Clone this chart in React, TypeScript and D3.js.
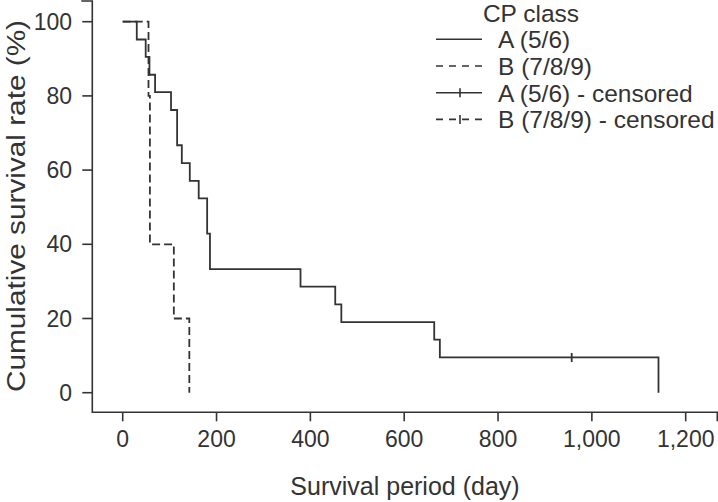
import React from 'react';
import * as d3 from 'd3';

// Survival data
const xTicks = [0, 200, 400, 600, 800, 1000, 1200];
const yTicks = [0, 20, 40, 60, 80, 100];
const timesA = [0, 30, 49, 57, 69, 103, 116, 126, 143, 162, 180, 186, 379, 453, 466, 664, 676, 1142];
const survA = [100, 95.2, 90.5, 85.7, 81.0, 76.2, 66.7, 61.9, 57.1, 52.4, 42.9, 33.3, 28.6, 23.8, 19.0, 14.3, 9.5, 0];
const censorTimesA = [957];
const censorSurvA = [9.5];
const timesB = [0, 55, 58, 109, 142];
const survB = [100, 80, 40, 20, 0];
const legendTitle = 'CP class';
const legendLabels = ['A (5/6)', 'B (7/8/9)', 'A (5/6) - censored', 'B (7/8/9) - censored'];

const fmt = d3.format(',');

export default function App() {
  const W = 718, H = 502;
  const ink = '#333333';
  const font = '"Liberation Sans", Arial, Helvetica, sans-serif';
  const x = d3.scaleLinear().domain([0, 1200]).range([122.7, 685.7]);
  const y = d3.scaleLinear().domain([0, 100]).range([392.7, 21.7]);
  const axL = 92.3, axB = 412.3, axT = 1, axR = 717.3;

  const line = d3.line<[number, number]>()
    .x(d => x(d[0]))
    .y(d => y(d[1]))
    .curve(d3.curveStepAfter);
  const ptsA: [number, number][] = timesA.map((t, i) => [t, survA[i]]);
  const ptsB: [number, number][] = timesB.map((t, i) => [t, survB[i]]);

  const legX0 = 436, legX1 = 482, legTextX = 498;
  const rowBase = (i: number) => 48.3 + i * 26.7;

  return (
    <svg width={W} height={H} style={{ position: 'absolute', left: 0, top: 0, background: '#fff' }}
      fontFamily={font}>
      <rect width={W} height={H} fill="#fff" />
      {/* axes */}
      <path d={`M${axL - 11},${axT}H${axL}V${axB}H${axR}V${axB + 9}`} fill="none" stroke={ink} strokeWidth={1.6} />
      {yTicks.map(t => (
        <g key={'y' + t}>
          <line x1={axL - 10} x2={axL} y1={y(t)} y2={y(t)} stroke={ink} strokeWidth={1.6} />
          <text x={72} y={y(t)} dy="0.35em" textAnchor="end" fontSize={23} fill={ink}>{t}</text>
        </g>
      ))}
      {xTicks.map(t => (
        <g key={'x' + t}>
          <line x1={x(t)} x2={x(t)} y1={axB} y2={axB + 9} stroke={ink} strokeWidth={1.6} />
          <text x={x(t)} y={446.5} textAnchor="middle" fontSize={23} fill={ink}>{fmt(t)}</text>
        </g>
      ))}
      <text x={405} y={495} textAnchor="middle" fontSize={25} fill={ink}>Survival period (day)</text>
      <text transform={`translate(24.5,206) rotate(-90)`} textAnchor="middle" fontSize={26.5} fill={ink}
        textLength={372} lengthAdjust="spacingAndGlyphs">Cumulative survival rate (%)</text>

      {/* curves */}
      <path d={line(ptsB) || ''} fill="none" stroke={ink} strokeWidth={1.8} strokeDasharray="8,4" />
      <path d={line(ptsA) || ''} fill="none" stroke={ink} strokeWidth={1.8} />
      {censorTimesA.map((t, i) => (
        <line key={'c' + i} x1={x(t)} x2={x(t)} y1={y(censorSurvA[i]) - 4.5} y2={y(censorSurvA[i]) + 4.5} stroke={ink} strokeWidth={1.8} />
      ))}

      {/* legend */}
      <text x={531} y={21.5} textAnchor="middle" fontSize={24.5} fill={ink}>{legendTitle}</text>
      {legendLabels.map((lab, i) => {
        const yy = rowBase(i) - 9;
        const dashed = i % 2 === 1;
        const cens = i >= 2;
        return (
          <g key={lab}>
            <line x1={legX0} x2={legX1} y1={yy} y2={yy} stroke={ink} strokeWidth={1.6}
              strokeDasharray={dashed ? '7,6' : undefined} />
            {cens && <line x1={460} x2={460} y1={yy - 4.5} y2={yy + 4.5} stroke={ink} strokeWidth={1.6} />}
            <text x={legTextX} y={rowBase(i)} fontSize={24.5} fill={ink}>{lab}</text>
          </g>
        );
      })}
    </svg>
  );
}
